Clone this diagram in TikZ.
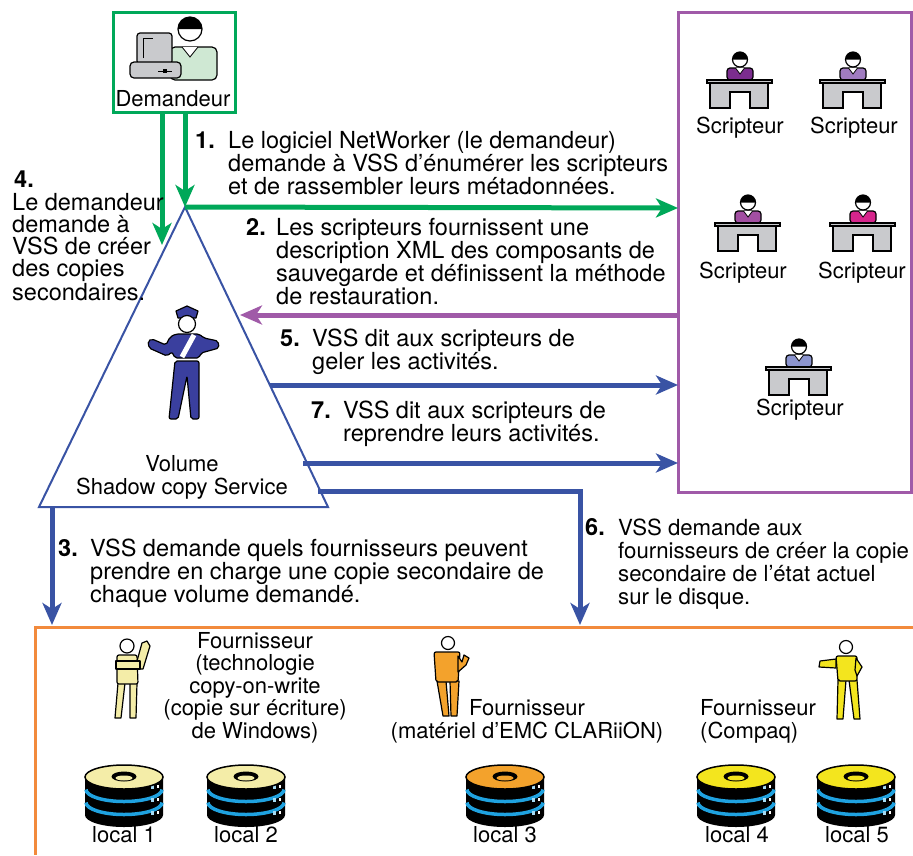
\documentclass[tikz,border=0pt]{standalone}
\usepackage{fontspec}
\setmainfont{TeX Gyre Heros}
\usetikzlibrary{arrows.meta}

\definecolor{reqgreen}{HTML}{00A859}
\definecolor{vssblue}{HTML}{3953A4}
\definecolor{wrpurple}{HTML}{A05AA8}
\definecolor{provorange}{HTML}{F28A3C}
\definecolor{deskgray}{HTML}{C9CACD}
\definecolor{shirtgreen}{HTML}{CFE8D3}
\definecolor{copblue}{HTML}{3A3F9E}
\definecolor{diskcream}{HTML}{F4EDA8}
\definecolor{diskorange}{HTML}{F3A22C}
\definecolor{diskyellow}{HTML}{F3E51E}
\definecolor{stripeblue}{HTML}{1FA2E0}
\definecolor{wA}{HTML}{7B2D8E}
\definecolor{wB}{HTML}{A07CC0}
\definecolor{wC}{HTML}{A24FA2}
\definecolor{wD}{HTML}{D6258C}
\definecolor{wE}{HTML}{8C95CF}

% multi-line nodes are placed by the baseline of their last line
\tikzset{
  txt/.style={font=\fontsize{23.5}{23}\selectfont, inner sep=0pt, align=left},
  lbl/.style={font=\fontsize{22}{22.6}\selectfont, inner sep=0pt, align=center},
  num/.style={font=\fontsize{23.5}{23}\selectfont\bfseries, inner sep=0pt},
  flow/.style={line width=5pt, -{Stealth[length=22pt,width=19pt,inset=6pt]}},
  outline/.style={draw=black, line width=1.2pt},
  fig/.style={outline, line join=round},
  pics/writer/.style={code={
    \path[outline, fill=#1, rounded corners=3pt] (-13,0) -- (-13,-12) -- (13,-12) -- (13,0) -- cycle;
    \path[draw=black, line width=0.8pt, fill=white] (-4.5,-12) -- (0,-6) -- (4.5,-12);
    \path[fill=white] (0,-20.5) circle[radius=7.5];
    \fill (-7.5,-20.5) arc[start angle=180, end angle=360, radius=7.5] -- cycle;
    \path[outline] (0,-20.5) circle[radius=7.5];
    \path[outline, fill=deskgray] (-30,3) -- (28,3) -- (28,28) -- (10,28) -- (10,12) -- (-10,12) -- (-10,28) -- (-30,28) -- cycle;
    \path[outline, fill=deskgray] (-33,0) rectangle (32,3);
  }},
  pics/disk/.style={code={
    \fill[black] (-39,0) -- (-39,38) arc[start angle=180, end angle=0, x radius=39, y radius=12] -- (39,0) -- cycle;
    \draw[stripeblue, line width=3.5pt] (-38,12.5) arc[start angle=180, end angle=0, x radius=38, y radius=12];
    \draw[stripeblue, line width=3.5pt] (-38,25.5) arc[start angle=180, end angle=0, x radius=38, y radius=12];
    \foreach \dy in {8,21,34} {
      \fill[stripeblue!40] (27,\dy) rectangle (30,\dy+3.5);
      \fill[white] (33,\dy-0.5) rectangle (34.5,\dy+2.5);
    }
    \path[draw=black, line width=1.5pt, fill=#1] (0,0) ellipse[x radius=39, y radius=12];
    \fill[black] (0,-0.5) ellipse[x radius=12.5, y radius=5];
    \fill[#1] (0,1) ellipse[x radius=8.5, y radius=2.5];
  }}
}

\begin{document}
\begin{tikzpicture}[x=1pt, y=-1pt]
\useasboundingbox (0,0) rectangle (913,855);

% ---------- requester ----------
\node[draw=reqgreen, line width=3pt, minimum width=122pt, minimum height=100pt, inner sep=0pt] (req) at (174,62) {};
% person behind the computer
\path[outline, fill=shirtgreen, rounded corners=5pt] (170,80) -- (170,47) -- (217,47) -- (217,80) -- cycle;
\path[draw=black, line width=0.8pt, fill=white] (182,47) -- (190,57) -- (198,47);
\path[fill=white] (190,29) circle[radius=12];
\fill (178,29) arc[start angle=180, end angle=360, radius=12] -- cycle;
\path[outline] (190,29) circle[radius=12];
% computer
\path[outline, fill=deskgray, rounded corners=3pt] (137,33) rectangle (172,64);
\draw[line width=1pt] (143,58) -- (143,38) -- (153,38);
\path[outline, fill=deskgray, rounded corners=4pt] (130,62) rectangle (181,78);
\draw[line width=1pt] (158,71) -- (172,71);
\fill (163,69) rectangle (167,73);
\node[lbl, anchor=base] (reqlbl) at (173,106) {Demandeur};

% ---------- writers ----------
\node[draw=wrpurple, line width=3pt, minimum width=233pt, minimum height=480pt, inner sep=0pt] (writers) at (795,252) {};
\pic at (740,80) {writer=wA};
\pic at (853,80) {writer=wB};
\pic at (748,223) {writer=wC};
\pic at (863,223) {writer=wD};
\pic at (799,367) {writer=wE};
\node[lbl, anchor=base] (s1) at (740,133) {Scripteur};
\node[lbl, anchor=base] (s2) at (854,133) {Scripteur};
\node[lbl, anchor=base] (s3) at (743,278) {Scripteur};
\node[lbl, anchor=base] (s4) at (862,278) {Scripteur};
\node[lbl, anchor=base] (s5) at (800,415) {Scripteur};

% ---------- VSS triangle ----------
\coordinate (apex) at (185,207);
\coordinate (bl) at (39,507);
\coordinate (br) at (328,507);
\draw[vssblue, line width=2pt, line join=miter] (apex) -- (bl) -- (br) -- cycle;
\node[lbl, anchor=base] (vss) at (182,494) {Volume\\Shadow copy Service};

% traffic officer
\path[fig, fill=copblue] (176,311) -- (187,306) -- (198,311) -- (196,318) -- (178,318) -- cycle;
\path[fill=white] (187,324) circle[radius=8.5];
\path[outline] (187,324) circle[radius=8.5];
\path[fig, fill=copblue, rounded corners=2pt] (176,334) -- (199,334) -- (204,338) -- (218,341) -- (219,348) -- (201,353) -- (199,358) -- (175,358) -- (172,352) -- (167,356) -- (149,348) -- (148,341) -- (152,339) -- (166,345) -- (170,337) -- cycle;
\draw[white, line width=5pt] (194,335) -- (182,357);
\path[fig, fill=copblue, rounded corners=2pt] (175,361) -- (199,361) -- (199,419) -- (191,419) -- (187,376) -- (178,419) -- (169,419) -- cycle;

% ---------- providers ----------
\path[draw=provorange, line width=3pt] (913,627) -- (35,627) -- (35,855);

% copy-on-write provider figure
\path[fig, fill=diskcream] (118,683) -- (125,683) -- (121,718) -- (115,718) -- cycle;
\path[fig, fill=diskcream] (130,683) -- (137,683) -- (136,718) -- (130,718) -- cycle;
\path[fig, fill=diskcream, rounded corners=2pt] (117,655) -- (137,655) -- (138,684) -- (117,684) -- cycle;
\path[fig, fill=diskcream] (136,669) -- (143,669) -- (150,646) -- (147,641) -- (142,643) -- (137,661) -- cycle;
\path[fig, fill=diskcream] (116,661) -- (140,661) -- (140,669) -- (116,669) -- cycle;
\path[outline, fill=white] (127,646) circle[radius=7];

% CLARiiON provider figure
\path[fig, fill=diskorange] (437,681) -- (446,681) -- (449,716) -- (443,716) -- cycle;
\path[fig, fill=diskorange] (450,681) -- (459,681) -- (457,716) -- (451,716) -- cycle;
\path[fig, fill=diskorange, rounded corners=2pt] (434,652) -- (460,652) -- (458,682) -- (436,682) -- cycle;
\path[fig, fill=diskorange] (458,656) -- (458,672) -- (466,665) -- (469,658) -- (464,655) -- (462,662) -- cycle;
\path[outline, fill=white] (448,643) circle[radius=6.5];

% Compaq provider figure
\path[fig, fill=diskyellow] (838,680) -- (846,680) -- (843,719) -- (837,719) -- cycle;
\path[fig, fill=diskyellow] (849,680) -- (857,680) -- (860,719) -- (854,719) -- cycle;
\path[fig, fill=diskyellow, rounded corners=2pt] (836,656) -- (857,656) -- (857,681) -- (838,681) -- cycle;
\path[fig, fill=diskyellow] (836,659) -- (820,661) -- (819,667) -- (836,668) -- cycle;
\path[fig, fill=diskyellow] (856,658) -- (862,667) -- (857,676) -- (855,670) -- cycle;
\path[outline, fill=white] (846,647) circle[radius=6.5];

\node[lbl, anchor=base, font=\fontsize{22}{22.5}\selectfont] (p1) at (255,738) {Fournisseur\\(technologie\\copy-on-write\\(copie sur écriture)\\de Windows)};
\node[lbl, anchor=base] (p2) at (527,738) {Fournisseur\\(matériel d’EMC CLARiiON)};
\node[lbl, anchor=base west, align=left] (p3) at (700,738) {Fournisseur\\(Compaq)};

% disks
\pic at (124,777) {disk=diskcream};
\pic at (246,777) {disk=diskcream};
\pic at (505,777) {disk=diskorange};
\pic at (736,777) {disk=diskyellow};
\pic at (856,777) {disk=diskyellow};
\node[lbl, anchor=base] (d1) at (124,842) {local 1};
\node[lbl, anchor=base] (d2) at (246,842) {local 2};
\node[lbl, anchor=base] (d3) at (505,842) {local 3};
\node[lbl, anchor=base] (d4) at (737,842) {local 4};
\node[lbl, anchor=base] (d5) at (857,842) {local 5};

% ---------- message arrows ----------
\coordinate (g1s) at (162,112);
\coordinate (g1e) at (162,245);
\coordinate (g2s) at (185,112);
\coordinate (g2e) at (185,207);
\coordinate (w1) at (678,208);
\coordinate (w2) at (678,315);
\coordinate (t2) at (240,315);
\coordinate (t5) at (270,385);
\coordinate (w5) at (678,385);
\coordinate (t7) at (303,463);
\coordinate (w7) at (678,463);
\coordinate (t6) at (318,491);
\coordinate (p6) at (580,625);
\coordinate (t3) at (52,507);
\coordinate (p3e) at (52,625);

\draw[flow, reqgreen] (g1s) -- (g1e);
\draw[flow, reqgreen] (g2s) -- (g2e);
\draw[flow, reqgreen] (apex) -- (w1);
\draw[flow, wrpurple] (w2) -- (t2);
\draw[flow, vssblue] (t5) -- (w5);
\draw[flow, vssblue] (t7) -- (w7);
\draw[flow, vssblue] (t6) -| (p6);
\draw[flow, vssblue] (t3) -- (p3e);

% ---------- step texts ----------
\node[num, anchor=base west] (n1) at (195,148) {1.};
\node[txt, anchor=base west] (m1) at (228,194) {Le logiciel NetWorker (le demandeur)\\demande à VSS d’énumérer les scripteurs\\et de rassembler leurs métadonnées.};
\node[num, anchor=base west] (n2) at (246,235) {2.};
\node[txt, anchor=base west] (m2) at (276,304) {Les scripteurs fournissent une\\description XML des composants de\\sauvegarde et définissent la méthode\\de restauration.};
\node[num, anchor=base west] (n5) at (280,346) {5.};
\node[txt, anchor=base west] (m5) at (312,369) {VSS dit aux scripteurs de\\geler les activités.};
\node[num, anchor=base west] (n7) at (311,418) {7.};
\node[txt, anchor=base west] (m7) at (343,441) {VSS dit aux scripteurs de\\reprendre leurs activités.};
\node[num, anchor=base west] (n4) at (14,187) {4.};
\node[txt, anchor=base west, font=\fontsize{23.5}{22}\selectfont] (m4) at (12,300) {Le demandeur\\demande à\\VSS de créer\\des copies\\secondaires.};
\node[num, anchor=base west] (n3) at (58,556) {3.};
\node[txt, anchor=base west] (m3) at (90,602) {VSS demande quels fournisseurs peuvent\\prendre en charge une copie secondaire de\\chaque volume demandé.};
\node[num, anchor=base west] (n6) at (585,535) {6.};
\node[txt, anchor=base west, font=\fontsize{22.2}{23}\selectfont] (m6) at (618,604) {VSS demande aux\\fournisseurs de créer la copie\\secondaire de l’état actuel\\sur le disque.};
\end{tikzpicture}
\end{document}
